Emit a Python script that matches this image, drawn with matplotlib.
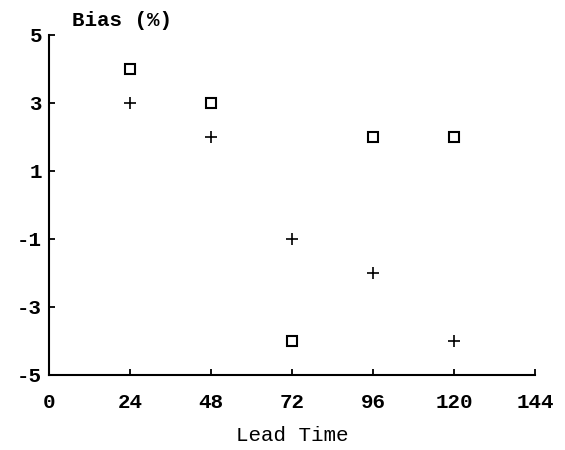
import matplotlib
matplotlib.use("Agg")
import matplotlib.pyplot as plt

lead_time = [24, 48, 72, 96, 120]
bias_square = [4, 3, -4, 2, 2]
bias_plus = [3, 2, -1, -2, -4]
x_ticks = [0, 24, 48, 72, 96, 120, 144]
y_ticks = [5, 3, 1, -1, -3, -5]
y_tick_labels = ["5", "3", "1", "-1", "-3", "-5"]

plt.rcParams['font.family'] = ['Liberation Mono', 'DejaVu Sans Mono']
plt.rcParams['font.weight'] = 'bold'

fig = plt.figure(figsize=(5.65, 4.5), dpi=100)
ax = fig.add_axes([49/565, 1-375/450, (535-49)/565, (375-35)/450])

ax.plot(lead_time, bias_square, linestyle='none', marker='s', markersize=6.5,
        markerfacecolor='white', markeredgecolor='black', markeredgewidth=1.5)
ax.plot(lead_time, bias_plus, linestyle='none', marker='+', markersize=8.5,
        color='black', markeredgewidth=1.2)

ax.set_xlim(0, 144)
ax.set_ylim(-5, 5)
ax.set_xticks(x_ticks)
ax.set_xticklabels([str(v) for v in x_ticks])
ax.set_yticks(y_ticks)
ax.set_yticklabels(y_tick_labels)

for s in ['top', 'right']:
    ax.spines[s].set_visible(False)
for s in ['left', 'bottom']:
    ax.spines[s].set_linewidth(1.5)

ax.tick_params(axis='both', direction='in', length=4, width=1.3, labelsize=15)
ax.tick_params(axis='x', pad=13)
ax.tick_params(axis='y', pad=5)

fig.text(72/565, 1-20/450, "Bias (%)", fontsize=15, ha='left', va='center')
ax.set_xlabel("Lead Time", fontsize=15, labelpad=10)

fig.savefig("out.png", dpi=100)
